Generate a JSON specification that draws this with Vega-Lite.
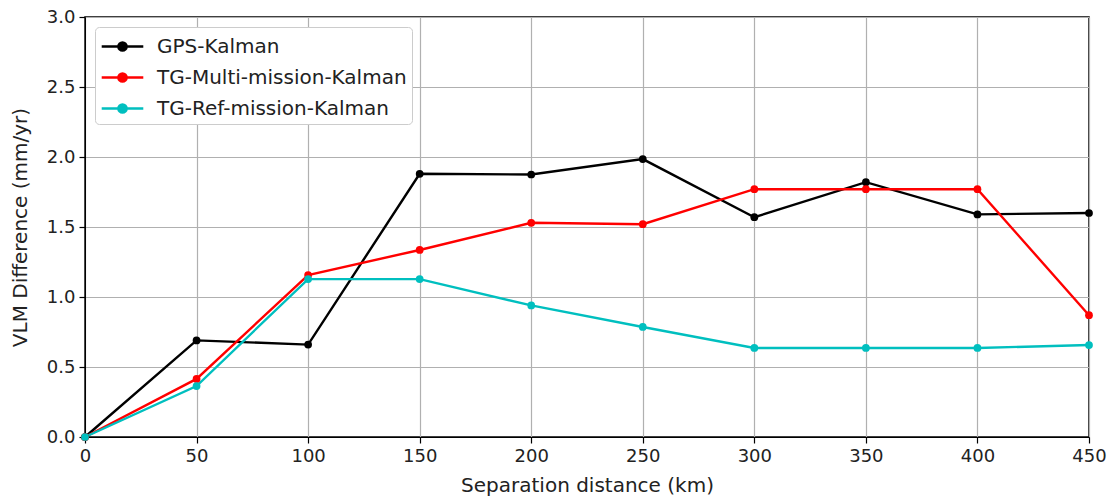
{
  "$schema": "https://vega.github.io/schema/vega-lite/v6.json",
  "width": 1004,
  "height": 420,
  "autosize": {"type": "none"},
  "padding": {"left": 85, "top": 17, "right": 26, "bottom": 66},
  "background": "white",
  "config": {
    "font": "DejaVu Sans",
    "view": {"stroke": "black", "strokeWidth": 1.5},
    "axis": {
      "labelFont": "DejaVu Sans", "titleFont": "DejaVu Sans",
      "labelFontSize": 18, "titleFontSize": 20, "titleFontWeight": "normal",
      "labelColor": "#222", "titleColor": "#222",
      "gridColor": "#b0b0b0", "gridWidth": 1.2, "gridOpacity": 1,
      "domainColor": "black", "tickColor": "black", "tickSize": 6, "tickWidth": 1.2,
      "labelPadding": 4, "labelFlush": false
    },
    "legend": {"labelFont": "DejaVu Sans", "labelFontSize": 20, "labelColor": "#222", "labelLimit": 500}
  },
  "data": {"values": [
    {"d": 0, "v": 0, "s": "GPS-Kalman"},
    {"d": 50, "v": 0.69, "s": "GPS-Kalman"},
    {"d": 100, "v": 0.66, "s": "GPS-Kalman"},
    {"d": 150, "v": 1.88, "s": "GPS-Kalman"},
    {"d": 200, "v": 1.875, "s": "GPS-Kalman"},
    {"d": 250, "v": 1.985, "s": "GPS-Kalman"},
    {"d": 300, "v": 1.57, "s": "GPS-Kalman"},
    {"d": 350, "v": 1.82, "s": "GPS-Kalman"},
    {"d": 400, "v": 1.59, "s": "GPS-Kalman"},
    {"d": 450, "v": 1.60, "s": "GPS-Kalman"},
    {"d": 0, "v": 0, "s": "TG-Multi-mission-Kalman"},
    {"d": 50, "v": 0.415, "s": "TG-Multi-mission-Kalman"},
    {"d": 100, "v": 1.157, "s": "TG-Multi-mission-Kalman"},
    {"d": 150, "v": 1.336, "s": "TG-Multi-mission-Kalman"},
    {"d": 200, "v": 1.53, "s": "TG-Multi-mission-Kalman"},
    {"d": 250, "v": 1.52, "s": "TG-Multi-mission-Kalman"},
    {"d": 300, "v": 1.77, "s": "TG-Multi-mission-Kalman"},
    {"d": 350, "v": 1.77, "s": "TG-Multi-mission-Kalman"},
    {"d": 400, "v": 1.77, "s": "TG-Multi-mission-Kalman"},
    {"d": 450, "v": 0.87, "s": "TG-Multi-mission-Kalman"},
    {"d": 0, "v": 0, "s": "TG-Ref-mission-Kalman"},
    {"d": 50, "v": 0.364, "s": "TG-Ref-mission-Kalman"},
    {"d": 100, "v": 1.128, "s": "TG-Ref-mission-Kalman"},
    {"d": 150, "v": 1.128, "s": "TG-Ref-mission-Kalman"},
    {"d": 200, "v": 0.94, "s": "TG-Ref-mission-Kalman"},
    {"d": 250, "v": 0.786, "s": "TG-Ref-mission-Kalman"},
    {"d": 300, "v": 0.636, "s": "TG-Ref-mission-Kalman"},
    {"d": 350, "v": 0.636, "s": "TG-Ref-mission-Kalman"},
    {"d": 400, "v": 0.636, "s": "TG-Ref-mission-Kalman"},
    {"d": 450, "v": 0.657, "s": "TG-Ref-mission-Kalman"}
  ]},
  "mark": {"type": "line", "strokeWidth": 2.4, "clip": false, "point": {"filled": true, "size": 60, "clip": false}},
  "encoding": {
    "x": {"field": "d", "type": "quantitative",
      "scale": {"domain": [0, 450], "nice": false, "zero": false},
      "axis": {"values": [0, 50, 100, 150, 200, 250, 300, 350, 400, 450], "title": "Separation distance (km)", "titlePadding": 10}},
    "y": {"field": "v", "type": "quantitative",
      "scale": {"domain": [0, 3], "nice": false},
      "axis": {"values": [0, 0.5, 1, 1.5, 2, 2.5, 3], "format": ".1f", "title": "VLM Difference (mm/yr)", "titlePadding": 16}},
    "color": {"field": "s", "type": "nominal",
      "scale": {"domain": ["GPS-Kalman", "TG-Multi-mission-Kalman", "TG-Ref-mission-Kalman"], "range": ["#000000", "#ff0000", "#00bfbf"]},
      "legend": {"title": null, "orient": "none", "legendX": 10, "legendY": 10,
        "symbolType": "M-1.6,0L1.6,0M-0.32,0A0.32,0.32 0 1,1 0.32,0A0.32,0.32 0 1,1 -0.32,0",
        "symbolSize": 676, "symbolStrokeWidth": 2.4, "symbolOffset": 8, "rowPadding": 6,
        "padding": 5, "fillColor": "white", "strokeColor": "#cccccc", "cornerRadius": 4,
        "labelOffset": 20}}
  }
}
